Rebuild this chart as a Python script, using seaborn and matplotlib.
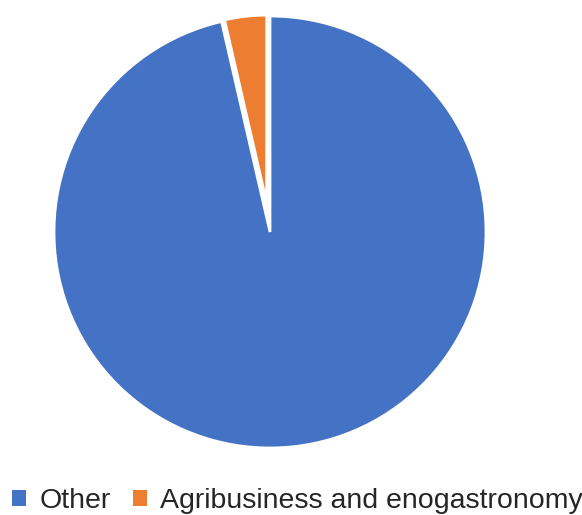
import matplotlib
matplotlib.use("Agg")
import matplotlib.pyplot as plt
import seaborn as sns
from matplotlib.patches import Patch

labels = ["Other", "Agribusiness and enogastronomy"]
values = [96.4, 3.6]
colors = ["#4472C4", "#ED7D31"]

sns.set_style("white")
plt.rcParams['font.family'] = ['Liberation Sans', 'DejaVu Sans']

fig = plt.figure(figsize=(5.82, 5.15), dpi=100)
ax = fig.add_axes([54/582, 67/515, 432/582, 432/515])
wedges, _ = ax.pie(values, colors=colors, startangle=90, counterclock=False,
                   explode=[0, 0.135],
                   wedgeprops=dict(edgecolor="white", linewidth=2))
wedges[1].set_radius(0.87)
ax.set_xlim(-1, 1)
ax.set_ylim(-1, 1)
ax.set_aspect("equal")
ax.axis("off")

handles = [Patch(facecolor=c, edgecolor="none") for c in colors]
fig.legend(handles, labels, loc="center left", bbox_to_anchor=(0.021, 0.027),
           ncol=2, frameon=False, fontsize=20.5, handlelength=0.5, handleheight=0.5,
           handletextpad=0.45, columnspacing=0.78, borderpad=0, borderaxespad=0)

fig.savefig("out.png", dpi=100)
